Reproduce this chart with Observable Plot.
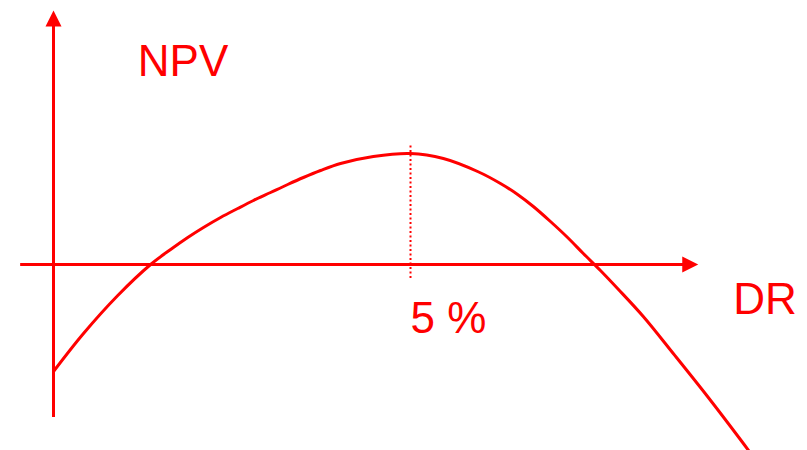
<!DOCTYPE html>
<html>
<head>
<meta charset="utf-8">
<script src="https://cdn.jsdelivr.net/npm/d3@7"></script>
<script src="https://cdn.jsdelivr.net/npm/@observablehq/plot@0.6"></script>
<style>
  html, body { margin: 0; padding: 0; background: #fff; }
  #chart svg { display: block; }
</style>
</head>
<body>
<div id="chart"></div>
<script>
// Discount rate (%) along the curve
const dr = [0, 0.42, 0.90, 1.36, 1.64, 1.88, 2.10, 2.34, 2.58, 2.80, 3.04, 3.28, 3.50, 3.74, 4.02, 4.48, 5.00,
            5.46, 5.94, 6.26, 6.50, 6.72, 6.96, 7.20, 7.42, 7.66, 7.90, 8.26, 8.68, 9.16, 9.62, 9.90];
// Net present value (arbitrary units)
const npv = [-107, -69, -31, 0, 15, 27, 37, 47, 56, 64, 72, 80, 87, 94, 101, 108, 111,
             106, 93, 81, 70, 58, 43, 27, 11, -6, -24, -52, -89, -132, -175, -202];

// Peak discount rate (dotted marker)
const peakDR = 5;
const peakNPV = 111;

// Annotation texts
const labelTexts = ["NPV", "DR", "5 %"];
const labelDR = [1.18, 9.52, 5.0];
const labelNPV = [189, -49, -68];

// Axis extents
const xAxisFrom = -0.46, xAxisTo = 8.92, xArrowTip = 9.03;
const yAxisFrom = -153, yAxisTo = 244, yArrowTip = 254;

const RED = "#ff0000";
const curveData = dr.map((d, i) => ({dr: d, npv: npv[i]}));
const labels = labelTexts.map((t, i) => ({text: t, dr: labelDR[i], npv: labelNPV[i]}));

const arrowHead = {
  draw(context) {
    context.moveTo(0, 0);
    context.lineTo(-8, 16);
    context.lineTo(8, 16);
    context.closePath();
  }
};

const chart = Plot.plot({
  width: 807,
  height: 450,
  margin: 0,
  x: {domain: [-0.7423, 10.56], axis: null},
  y: {domain: [-186, 264], axis: null},
  style: {background: "#fff", fontFamily: "'Liberation Sans', Arial, sans-serif"},
  marks: [
    Plot.ruleY([0], {x1: xAxisFrom, x2: xAxisTo, stroke: RED, strokeWidth: 3}),
    Plot.ruleX([0], {y1: yAxisFrom, y2: yAxisTo, stroke: RED, strokeWidth: 3}),
    Plot.dot([{dr: xArrowTip, npv: 0}], {x: "dr", y: "npv", symbol: arrowHead, fill: RED, stroke: null, rotate: 90, r: 8}),
    Plot.dot([{dr: 0, npv: yArrowTip}], {x: "dr", y: "npv", symbol: arrowHead, fill: RED, stroke: null, r: 8}),
    Plot.ruleX([peakDR], {y1: -14, y2: peakNPV + 8, stroke: RED, strokeWidth: 2, strokeDasharray: "2,2.5"}),
    Plot.line(curveData, {x: "dr", y: "npv", curve: "catmull-rom", stroke: RED, strokeWidth: 3}),
    Plot.text(labels, {x: "dr", y: "npv", text: "text", fill: RED, fontSize: 44, textAnchor: "start", lineAnchor: "bottom"})
  ]
});
document.getElementById("chart").append(chart);
</script>
</body>
</html>
